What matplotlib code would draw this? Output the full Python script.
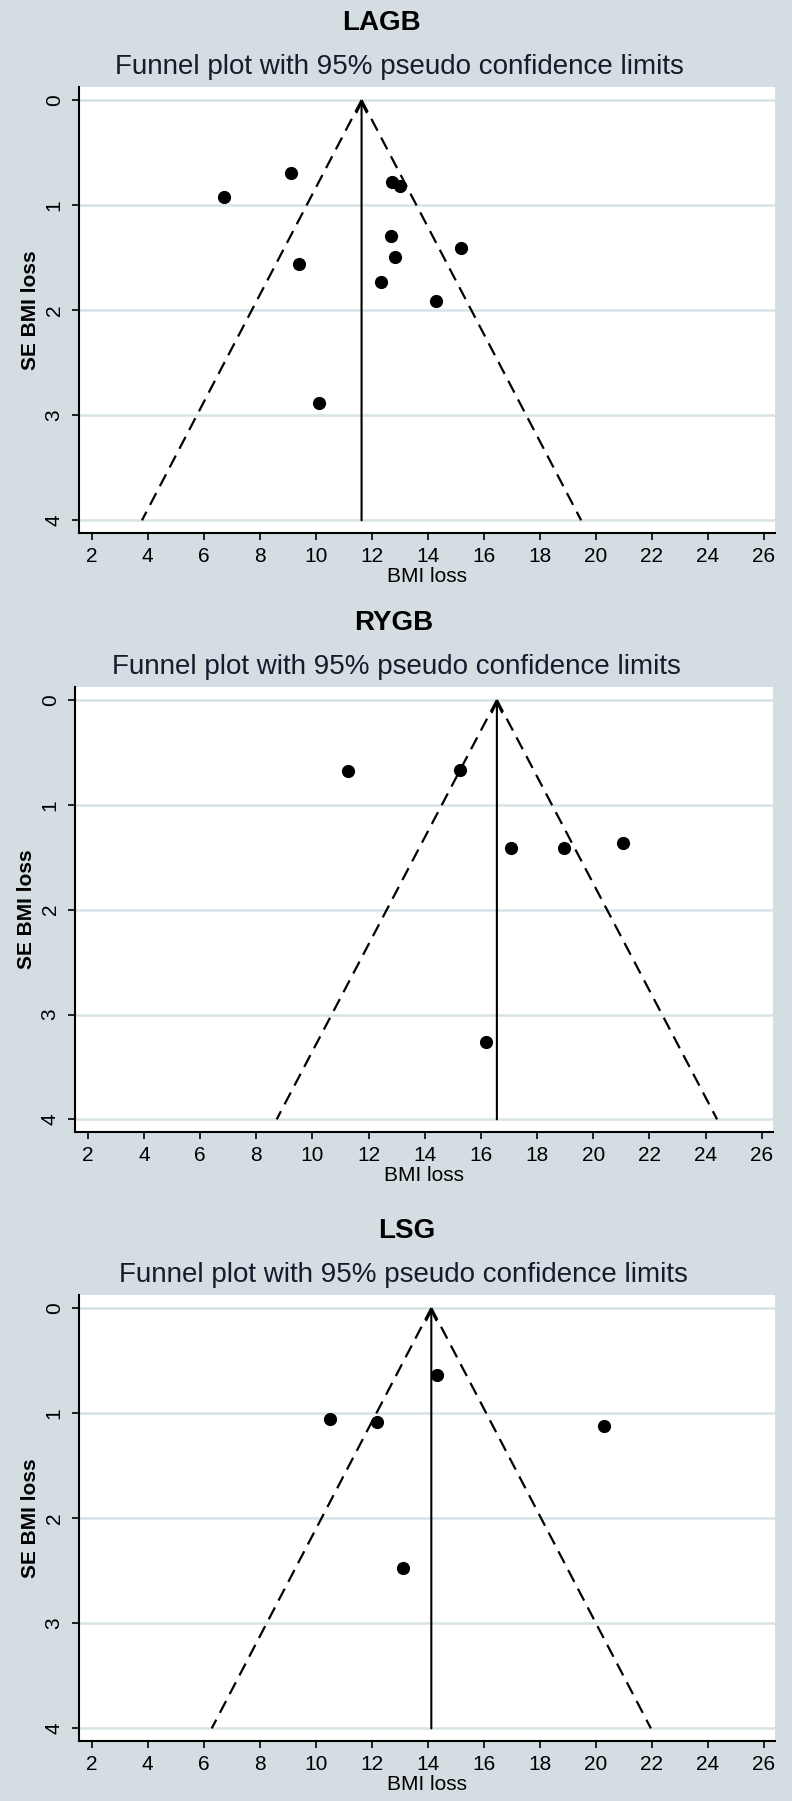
import numpy as np
import matplotlib.pyplot as plt

plt.rcParams['font.family'] = ['Liberation Sans', 'DejaVu Sans']

# study estimates (BMI loss, SE of BMI loss)
lagb_bmi = [6.72, 9.12, 12.72, 13.03, 12.70, 15.19, 12.85, 9.42, 12.32, 14.31, 10.11]
lagb_se = [0.925, 0.692, 0.78, 0.82, 1.29, 1.41, 1.49, 1.56, 1.73, 1.91, 2.88]
lagb_pooled = 11.64

rygb_bmi = [11.27, 15.25, 17.07, 18.96, 21.05, 16.19]
rygb_se = [0.678, 0.663, 1.41, 1.41, 1.36, 3.26]
rygb_pooled = 16.57

lsg_bmi = [14.32, 10.52, 12.20, 20.31, 13.12]
lsg_se = [0.636, 1.056, 1.085, 1.118, 2.47]
lsg_pooled = 14.13

names = ["LAGB", "RYGB", "LSG"]
xticks = list(range(2, 27, 2))
yticks = [0, 1, 2, 3, 4]
subtitle = "Funnel plot with 95% pseudo confidence limits"

bg = "#d3dde2"
grid_c = "#d8e2e7"

fig = plt.figure(figsize=(7.92, 18.01), dpi=100, facecolor=bg)

# [left, bottom, width, height] per panel, plus title / subtitle positions
boxes = [[0.0997, 0.7041, 0.8788, 0.2476],
         [0.0947, 0.3715, 0.8813, 0.2471],
         [0.0997, 0.0333, 0.8788, 0.2477]]
title_pos = [(0.481, 1 - 23 / 1801), (0.497, 1 - 623 / 1801), (0.514, 1 - 1231 / 1801)]
sub_pos = [(0.504, 1 - 67 / 1801), (0.500, 1 - 667 / 1801), (0.510, 1 - 1275 / 1801)]

panels = [(lagb_bmi, lagb_se, lagb_pooled),
          (rygb_bmi, rygb_se, rygb_pooled),
          (lsg_bmi, lsg_se, lsg_pooled)]

for i, (bmi, se, pooled) in enumerate(panels):
    ax = fig.add_axes(boxes[i])
    ax.set_facecolor("white")
    ax.set_xlim(1.55, 26.4)
    ax.set_ylim(4.12, -0.125)

    for yv in yticks:
        ax.axhline(yv, color=grid_c, lw=1.8, zorder=0)

    # 95% pseudo confidence limits
    se_line = np.array([0, 4])
    ax.plot(pooled - 1.96 * se_line, se_line, color="black", lw=1.6,
            dashes=(6, 3.5), zorder=2)
    ax.plot(pooled + 1.96 * se_line, se_line, color="black", lw=1.6,
            dashes=(6, 3.5), zorder=2)
    ax.annotate("", xy=(pooled, 0), xytext=(pooled, 4),
                arrowprops=dict(arrowstyle="->", color="black", lw=1.5,
                                mutation_scale=18, shrinkA=0, shrinkB=0),
                zorder=2)

    ax.scatter(bmi, se, s=72, color="black", zorder=3)

    ax.set_xticks(xticks)
    ax.set_yticks(yticks)
    ax.set_yticklabels([str(v) for v in yticks], rotation=90, va="center")
    ax.tick_params(axis="both", direction="out", length=5, width=1.2,
                   labelsize=15, colors="black")
    ax.tick_params(axis="y", pad=6)
    ax.tick_params(axis="x", pad=5)
    for s in ["top", "right"]:
        ax.spines[s].set_visible(False)
    for s in ["left", "bottom"]:
        ax.spines[s].set_linewidth(1.5)

    ax.set_xlabel("BMI loss", fontsize=15)
    ax.xaxis.set_label_coords(0.5, -0.076)
    ax.set_ylabel("SE BMI loss", fontsize=15, fontweight="bold")
    ax.yaxis.set_label_coords(-0.056, 0.5)

    fig.text(title_pos[i][0], title_pos[i][1], names[i], ha="center", va="center",
             fontsize=20, fontweight="bold", color="black")
    fig.text(sub_pos[i][0], sub_pos[i][1], subtitle, ha="center", va="center",
             fontsize=20, color="#161c2c")

fig.savefig("out.png", dpi=100, facecolor=bg)
